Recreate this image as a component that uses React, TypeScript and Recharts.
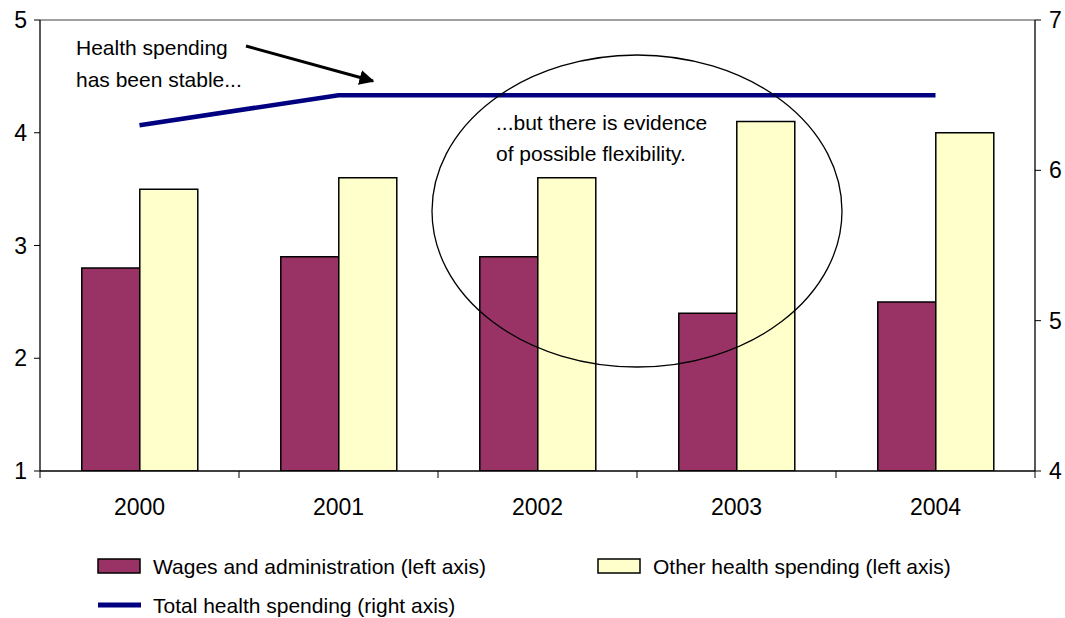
import React from 'react';
import { ComposedChart, Bar, Line, XAxis, YAxis, ReferenceLine } from 'recharts';

// Spending by year
const years = ['2000', '2001', '2002', '2003', '2004'];
const wagesAdmin = [2.8, 2.9, 2.9, 2.4, 2.5];
const otherSpending = [3.5, 3.6, 3.6, 4.1, 4.0];
const totalSpending = [6.3, 6.5, 6.5, 6.5, 6.5];

const leftTicks = [1, 2, 3, 4, 5];
const rightTicks = [4, 5, 6, 7];

const seriesNames = {
  wages: 'Wages and administration (left axis)',
  other: 'Other health spending (left axis)',
  total: 'Total health spending (right axis)',
};

const data = years.map((year, i) => ({
  year,
  wages: wagesAdmin[i],
  other: otherSpending[i],
  total: totalSpending[i],
}));

const W = 1065;
const H = 618;
const LEFT_AXIS_W = 40;
const RIGHT_AXIS_W = 30;
const TOP = 20;
const X_AXIS_H = 147;
const BAND = (W - LEFT_AXIS_W - RIGHT_AXIS_W) / years.length;

const FONT = '"Liberation Sans", Arial, sans-serif';
const TICK_FONT_SIZE = 23;

const WAGES_COLOR = '#993366';
const OTHER_COLOR = '#FFFFCC';
const TOTAL_COLOR = '#000080';

// Category label centred in its band, with a tick mark on the band's left edge
const YearTick = (props: any) => {
  const { x, y, payload, index } = props;
  const isLast = index === years.length - 1;
  return (
    <g>
      <line x1={x - BAND / 2} x2={x - BAND / 2} y1={y} y2={y + 7} stroke="#000" strokeWidth={1} />
      {isLast && (
        <line x1={x + BAND / 2} x2={x + BAND / 2} y1={y} y2={y + 7} stroke="#000" strokeWidth={1} />
      )}
      <text x={x} y={y + 44} textAnchor="middle" fontSize={TICK_FONT_SIZE} fontFamily={FONT} fill="#000">
        {payload.value}
      </text>
    </g>
  );
};

const LegendBox = ({ color, label, x, y }: { color: string; label: string; x: number; y: number }) => (
  <g>
    <rect x={x} y={y} width={42} height={14} fill={color} stroke="#000" strokeWidth={1.5} />
    <text x={x + 55} y={y + 15} fontSize={21} fontFamily={FONT} fill="#000">
      {label}
    </text>
  </g>
);

export default function App() {
  return (
    <div style={{ position: 'absolute', left: 0, top: 0, width: W, height: H, background: '#fff' }}>
      <ComposedChart
        width={W}
        height={H}
        data={data}
        margin={{ top: TOP, right: 0, bottom: 0, left: 0 }}
        barCategoryGap="21%"
        barGap={0}
      >
        <XAxis
          dataKey="year"
          height={X_AXIS_H}
          tickLine={false}
          tickSize={0}
          tickMargin={0}
          axisLine={{ stroke: '#000', strokeWidth: 1.3 }}
          tick={<YearTick />}
          interval={0}
        />
        <YAxis
          yAxisId="left"
          orientation="left"
          width={LEFT_AXIS_W}
          domain={[1, 5]}
          ticks={leftTicks}
          allowDataOverflow
          tickSize={6}
          tickMargin={7}
          axisLine={{ stroke: '#000', strokeWidth: 1.3 }}
          tickLine={{ stroke: '#000' }}
          tick={{ fontSize: TICK_FONT_SIZE, fontFamily: FONT, fill: '#000' }}
        />
        <YAxis
          yAxisId="right"
          orientation="right"
          width={RIGHT_AXIS_W}
          domain={[4, 7]}
          ticks={rightTicks}
          allowDataOverflow
          tickSize={6}
          tickMargin={8}
          axisLine={{ stroke: '#000', strokeWidth: 1.3 }}
          tickLine={{ stroke: '#000' }}
          tick={{ fontSize: TICK_FONT_SIZE, fontFamily: FONT, fill: '#000' }}
        />
        <ReferenceLine yAxisId="left" y={5} stroke="#808080" strokeWidth={1.5} />
        <Bar
          yAxisId="left"
          dataKey="wages"
          name={seriesNames.wages}
          fill={WAGES_COLOR}
          stroke="#000"
          strokeWidth={1.5}
          isAnimationActive={false}
        />
        <Bar
          yAxisId="left"
          dataKey="other"
          name={seriesNames.other}
          fill={OTHER_COLOR}
          stroke="#000"
          strokeWidth={1.5}
          isAnimationActive={false}
        />
        <Line
          yAxisId="right"
          dataKey="total"
          name={seriesNames.total}
          stroke={TOTAL_COLOR}
          strokeWidth={4.5}
          dot={false}
          activeDot={false}
          isAnimationActive={false}
        />
      </ComposedChart>

      {/* Annotations and legend */}
      <svg
        width={W}
        height={H}
        style={{ position: 'absolute', left: 0, top: 0, pointerEvents: 'none' }}
      >
        <defs>
          <marker id="arrowHead" viewBox="0 0 10 10" refX="9" refY="5" markerWidth="5" markerHeight="5" orient="auto">
            <path d="M0,0 L10,5 L0,10 z" fill="#000" />
          </marker>
        </defs>
        <text x={76} y={55} fontSize={21} fontFamily={FONT} fill="#000">Health spending</text>
        <text x={76} y={87} fontSize={21} fontFamily={FONT} fill="#000">has been stable...</text>
        <line x1={246} y1={46} x2={373} y2={81} stroke="#000" strokeWidth={3} markerEnd="url(#arrowHead)" />

        <ellipse cx={637} cy={211} rx={205} ry={156} fill="none" stroke="#000" strokeWidth={1.3} />
        <text x={496} y={130} fontSize={21} fontFamily={FONT} fill="#000">...but there is evidence</text>
        <text x={496} y={161} fontSize={21} fontFamily={FONT} fill="#000">of possible flexibility.</text>

        <LegendBox color={WAGES_COLOR} label={seriesNames.wages} x={98} y={559} />
        <LegendBox color={OTHER_COLOR} label={seriesNames.other} x={598} y={559} />
        <line x1={98} x2={141} y1={605} y2={605} stroke={TOTAL_COLOR} strokeWidth={5} />
        <text x={153} y={613} fontSize={21} fontFamily={FONT} fill="#000">{seriesNames.total}</text>
      </svg>
    </div>
  );
}
